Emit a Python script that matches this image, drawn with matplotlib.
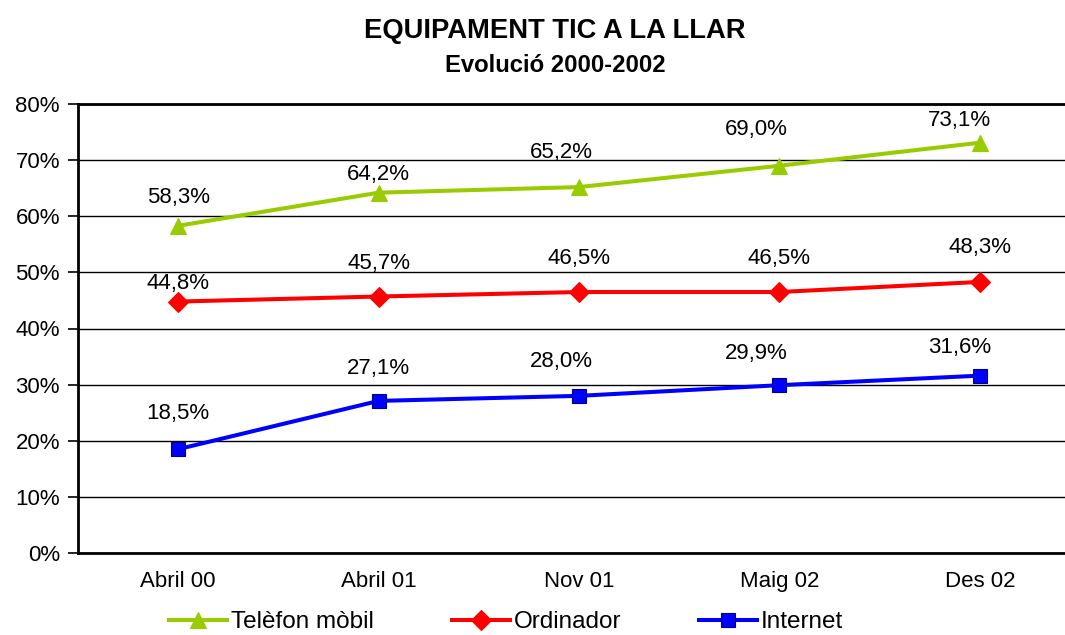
import matplotlib
matplotlib.use("Agg")
import matplotlib.pyplot as plt
from matplotlib.ticker import FixedLocator

categories = ["Abril 00", "Abril 01", "Nov 01", "Maig 02", "Des 02"]
mobil = [58.3, 64.2, 65.2, 69.0, 73.1]
ordinador = [44.8, 45.7, 46.5, 46.5, 48.3]
internet = [18.5, 27.1, 28.0, 29.9, 31.6]
yticks = [0, 10, 20, 30, 40, 50, 60, 70, 80]

# label offsets in pixels (style)
off_mobil = [(0, 28), (0, 18), (-18, 35), (-23, 36), (-20, 22)]
off_ord = [(0, 18), (0, 33), (0, 34), (0, 34), (0, 34)]
off_int = [(0, 36), (0, 32), (-18, 34), (-23, 32), (-20, 28)]

plt.rcParams['font.family'] = ['Liberation Sans', 'DejaVu Sans']

fig = plt.figure(figsize=(10.65, 6.35), dpi=100)
ax = fig.add_axes([78/1065, 1-553/635, (1080-78)/1065, (553-104)/635])

x = list(range(len(categories)))
series = [
    (mobil, "Telèfon mòbil", "#99CC00", "^", "#99CC00", off_mobil, 12),
    (ordinador, "Ordinador", "#FF0000", "D", "#FF0000", off_ord, 10.5),
    (internet, "Internet", "#0000FF", "s", "#000080", off_int, 9.5),
]
for vals, name, col, mk, ec, offs, ms in series:
    ax.plot(x, vals, color=col, lw=2.9, marker=mk, markersize=ms,
            markerfacecolor=col, markeredgecolor=ec, markeredgewidth=0.8,
            label=name, zorder=3, clip_on=False)
    for xi, v, o in zip(x, vals, offs):
        ax.annotate(f"{v:.1f}%".replace(".", ","), (xi, v), xytext=o,
                    textcoords="offset pixels", ha="center", va="center",
                    fontsize=16, color="black", zorder=4)

ax.set_xlim(-0.5, 4.5)
ax.set_ylim(0, 80)
ax.yaxis.set_major_locator(FixedLocator(yticks))
ax.set_yticklabels([f"{t}%" for t in yticks], fontsize=16)
ax.set_xticks(x)
ax.set_xticklabels(categories, fontsize=16)
ax.tick_params(axis='x', length=0, pad=13)
ax.tick_params(axis='y', length=7, width=1.2, direction='out', pad=6)
ax.grid(axis='y', color='black', lw=1.0, zorder=1)
for s in ['left', 'bottom']:
    ax.spines[s].set_linewidth(2)
ax.spines['top'].set_linewidth(2)
ax.spines['right'].set_visible(False)

fig.text(555/1065, 1-31/635, "EQUIPAMENT TIC A LA LLAR", ha='center', va='center',
         fontsize=19.7, fontweight='bold')
fig.text(555/1065, 1-66/635, "Evolució 2000-2002", ha='center', va='center',
         fontsize=17.2, fontweight='bold')

fig.legend(loc='center', bbox_to_anchor=(506/1065, 1-622/635), ncol=3,
           frameon=False, fontsize=17.5, handlelength=2.4, columnspacing=3.2,
           handletextpad=0.15, borderpad=0.1)

fig.savefig("out.png", dpi=100)
